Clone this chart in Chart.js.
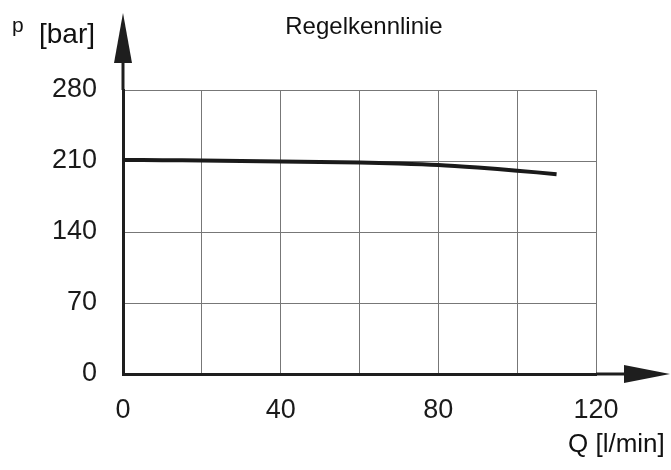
<!DOCTYPE html>
<html>
<head>
<meta charset="utf-8">
<script src="https://cdn.jsdelivr.net/npm/chart.js@4"></script>
<style>
html,body{margin:0;padding:0;background:#fff;}
#wrap{width:671px;height:470px;}
</style>
</head>
<body>
<div id="wrap"><canvas id="c" width="671" height="470"></canvas></div>
<script>
const chartTitle = "Regelkennlinie";
const yUnit = "[bar]";
const ySymbol = "p";
const xTitle = "Q [l/min]";
const flowQ = [0, 10, 20, 30, 40, 50, 60, 70, 80, 90, 100, 110];
const pressureP = [211, 210.8, 210.5, 210, 209.5, 209, 208.5, 207.5, 206, 203.5, 200.5, 197];
const xLabelValues = [0, 40, 80, 120];
const yTickValues = [0, 70, 140, 210, 280];

const dataPoints = flowQ.map((q, i) => ({x: q, y: pressureP[i]}));
const FONT = "'Liberation Sans', Arial, sans-serif";

const decor = {
  id: 'decor',
  afterDraw(chart) {
    const ctx = chart.ctx;
    const a = chart.chartArea;
    const xs = chart.scales.x, ys = chart.scales.y;
    const x0 = xs.getPixelForValue(0);
    const y0 = ys.getPixelForValue(0);
    ctx.save();
    ctx.strokeStyle = '#1e1e1e';
    ctx.fillStyle = '#1e1e1e';
    ctx.lineWidth = 3;
    // y arrow
    ctx.beginPath(); ctx.moveTo(x0, a.top); ctx.lineTo(x0, 60); ctx.stroke();
    ctx.beginPath(); ctx.moveTo(x0, 13); ctx.lineTo(x0 - 9, 63); ctx.lineTo(x0 + 9, 63); ctx.closePath(); ctx.fill();
    // x arrow
    ctx.beginPath(); ctx.moveTo(a.right, y0); ctx.lineTo(628, y0); ctx.stroke();
    ctx.beginPath(); ctx.moveTo(670, y0); ctx.lineTo(624, y0 - 9); ctx.lineTo(624, y0 + 9); ctx.closePath(); ctx.fill();
    // texts
    ctx.fillStyle = '#111';
    ctx.textBaseline = 'alphabetic';
    ctx.textAlign = 'center';
    ctx.font = '24px ' + FONT;
    ctx.fillText(chartTitle, 364, 34);
    ctx.textAlign = 'left';
    ctx.font = '21px ' + FONT;
    ctx.fillText(ySymbol, 12, 32);
    ctx.font = '28px ' + FONT;
    ctx.fillText(yUnit, 39, 43);
    ctx.font = '26px ' + FONT;
    ctx.fillText(xTitle, 568, 452);
    ctx.restore();
  }
};

new Chart(document.getElementById('c'), {
  type: 'scatter',
  data: {
    datasets: [{
      data: dataPoints,
      showLine: true,
      borderColor: '#1a1a1a',
      borderWidth: 4,
      pointRadius: 0,
      tension: 0.3,
      borderCapStyle: 'butt'
    }]
  },
  options: {
    responsive: false,
    animation: false,
    devicePixelRatio: 1,
    layout: {padding: {top: 90, right: 75, left: 0, bottom: 0}},
    plugins: {legend: {display: false}, tooltip: {enabled: false}, title: {display: false}},
    scales: {
      x: {
        type: 'linear', min: 0, max: 120,
        afterFit(s) { s.height = 96; },
        afterBuildTicks(s) { s.ticks = [0,20,40,60,80,100,120].map(v => ({value: v})); },
        grid: {color: '#777', lineWidth: 1, drawTicks: false},
        border: {display: true, color: '#1e1e1e', width: 3},
        ticks: {
          padding: 20,
          color: '#1a1a1a',
          maxRotation: 0,
          autoSkip: false,
          font: {family: FONT, size: 27},
          callback: v => xLabelValues.includes(v) ? String(v) : ''
        }
      },
      y: {
        type: 'linear', min: 0, max: 280,
        afterFit(s) { s.width = 123; },
        afterBuildTicks(s) { s.ticks = yTickValues.map(v => ({value: v})); },
        grid: {color: '#777', lineWidth: 1, drawTicks: false},
        border: {display: true, color: '#1e1e1e', width: 3},
        ticks: {
          padding: 26,
          color: '#1a1a1a',
          font: {family: FONT, size: 27},
          callback: v => String(v)
        }
      }
    }
  },
  plugins: [decor]
});
</script>
</body>
</html>
